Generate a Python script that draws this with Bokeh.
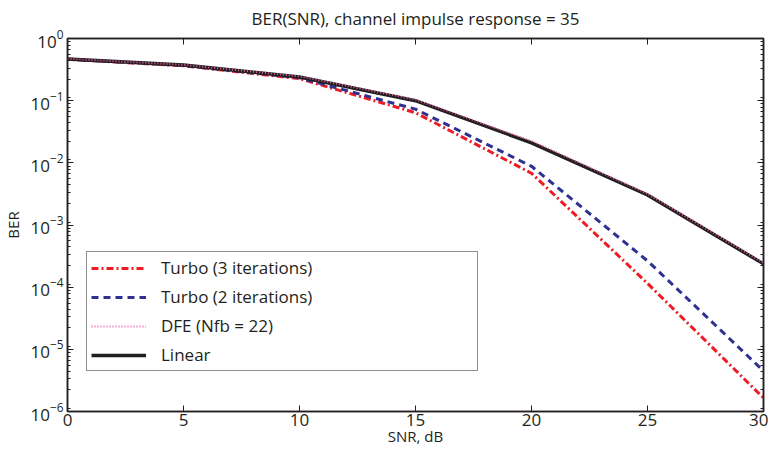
from bokeh.plotting import figure
from bokeh.models import (LinearAxis, LogAxis, FixedTicker, LogTicker, Legend, LegendItem,
                          Range1d, CustomLabelingPolicy)
from bokeh.embed import file_html
from bokeh.resources import INLINE

snr = [0, 5, 10, 15, 20, 25, 30]
ber_turbo3 = [0.462, 0.364, 0.226, 0.064, 0.0068, 1.15e-4, 1.65e-6]
ber_turbo2 = [0.464, 0.368, 0.233, 0.073, 0.0088, 2.65e-4, 4.5e-6]
ber_dfe = [0.472, 0.377, 0.246, 0.104, 0.0226, 0.00316, 2.45e-4]
ber_linear = [0.468, 0.374, 0.241, 0.100, 0.0210, 0.00304, 2.37e-4]
x_ticks = [0, 5, 10, 15, 20, 25, 30]

FONT = "Open Sans"
TXT = "#231f20"

p = figure(width=768, height=448, output_backend="svg", toolbar_location=None,
           y_axis_type="log", x_range=Range1d(0, 30), y_range=Range1d(1e-6, 1),
           min_border_left=61, min_border_right=0, min_border_top=33, min_border_bottom=36)
p.title.text = "BER(SNR), channel impulse response = 35"
p.title.text_font = FONT
p.title.text_font_size = "17px"
p.title.text_font_style = "normal"
p.title.text_color = TXT
p.title.align = "center"
p.title.standoff = 8

p.xgrid.visible = False
p.ygrid.visible = False
p.outline_line_color = TXT
p.outline_line_width = 1.5

xt = FixedTicker(ticks=x_ticks)
yt = LogTicker(num_minor_ticks=9)

def style(ax, labels=True):
    ax.axis_line_color = TXT
    ax.axis_line_width = 1.5
    ax.major_tick_in = 6
    ax.major_tick_out = 0
    ax.minor_tick_in = 3
    ax.minor_tick_out = 0
    ax.major_tick_line_color = TXT
    ax.minor_tick_line_color = TXT
    ax.major_label_text_font = FONT
    ax.major_label_text_color = TXT
    ax.axis_label_text_font = FONT
    ax.axis_label_text_font_style = "normal"
    ax.axis_label_text_color = TXT
    ax.major_label_text_font_size = "17px"
    ax.axis_label_text_font_size = "15px"
    if not labels:
        ax.major_label_policy = CustomLabelingPolicy(code="return []")
        ax.major_label_text_font_size = "1px"
        ax.major_label_standoff = 0

xa = p.xaxis[0]
xa.ticker = xt
xa.axis_label = "SNR, dB"
style(xa)
xa.minor_tick_in = 0
xa.major_label_standoff = 2
xa.axis_label_standoff = -3

ya = p.yaxis[0]
ya.ticker = yt
ya.axis_label = "BER"
style(ya)
ya.major_label_standoff = 4
ya.axis_label_standoff = 4

top = LinearAxis(ticker=xt)
style(top, labels=False)
top.minor_tick_in = 0
p.add_layout(top, "above")

right = LogAxis(ticker=yt)
style(right, labels=False)
p.add_layout(right, "right")

r3 = p.line(snr, ber_turbo3, line_color="#ed1c24", line_width=3, line_dash="7 3 2 3")
r2 = p.line(snr, ber_turbo2, line_color="#2e3192", line_width=3, line_dash="7 5")
rl = p.line(snr, ber_linear, line_color=TXT, line_width=3.5)
rd = p.line(snr, ber_dfe, line_color="#ef5fa7", line_width=1.8, line_dash="1 2")

legend = Legend(items=[
    LegendItem(label="Turbo (3 iterations)", renderers=[r3]),
    LegendItem(label="Turbo (2 iterations)", renderers=[r2]),
    LegendItem(label="DFE (Nfb = 22)", renderers=[rd]),
    LegendItem(label="Linear", renderers=[rl]),
], location=(19, 40))
legend.label_text_font = FONT
legend.label_text_font_size = "17px"
legend.label_text_color = TXT
legend.border_line_color = TXT
legend.border_line_width = 1.5
legend.padding = 4
legend.margin = 0
legend.spacing = 6
legend.glyph_width = 55
legend.glyph_height = 22
legend.label_height = 22
legend.label_width = 312
legend.label_standoff = 15
legend.background_fill_color = "white"
legend.background_fill_alpha = 1
p.add_layout(legend, "center")

open("out.html", "w").write(file_html(p, INLINE))
